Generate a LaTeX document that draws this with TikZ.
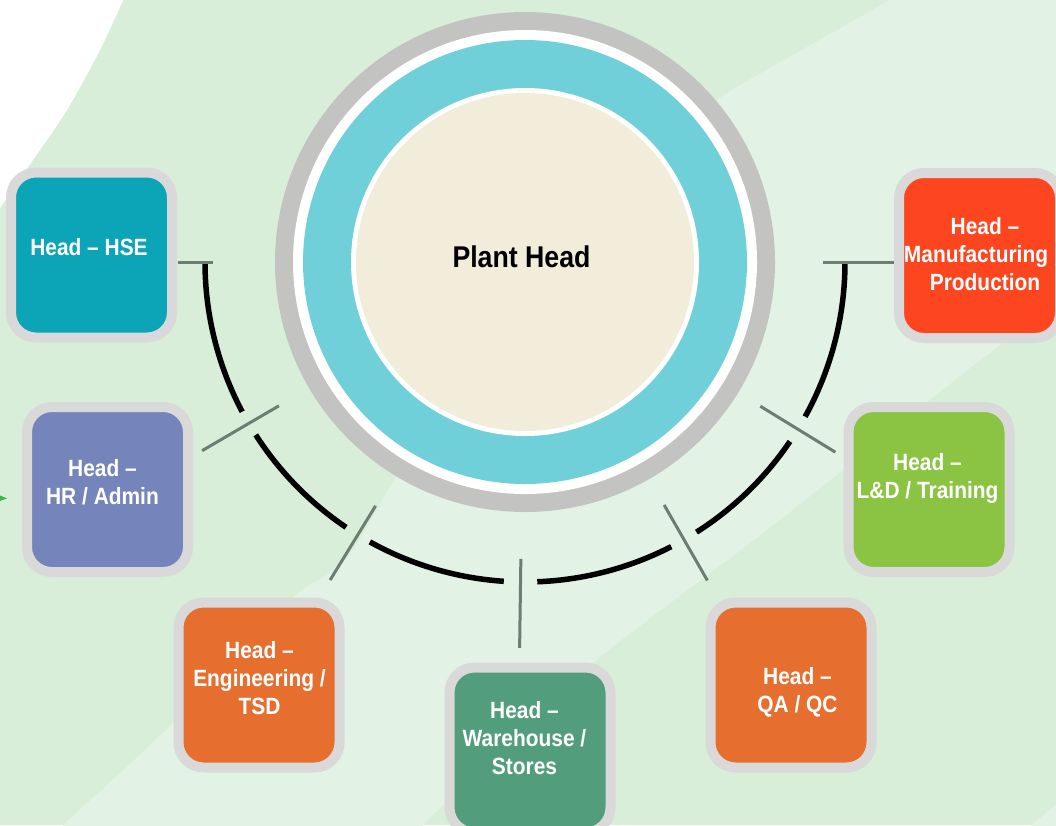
\documentclass[tikz,border=0pt]{standalone}
\usepackage{fontspec}
\newfontfamily\boxfont[FakeStretch=0.89]{Liberation Sans}
\definecolor{bgdark}{HTML}{D8EED9}
\definecolor{bglight}{HTML}{E2F2E4}
\definecolor{ringgray}{HTML}{C3C3C2}
\definecolor{ringcyan}{HTML}{6FD0DA}
\definecolor{core}{HTML}{F2ECDA}
\definecolor{boxrim}{HTML}{D8D9D8}
\definecolor{tickgray}{HTML}{6E7D72}
\definecolor{hsecol}{HTML}{0BA5B7}
\definecolor{hrcol}{HTML}{7585BC}
\definecolor{engcol}{HTML}{E66F30}
\definecolor{whcol}{HTML}{529E7C}
\definecolor{qacol}{HTML}{E66F30}
\definecolor{ldcol}{HTML}{8BC443}
\definecolor{mfcol}{HTML}{FD4620}
\definecolor{arrowgreen}{HTML}{3CB54A}
\tikzset{
  unitbox/.style={draw=boxrim, line width=10pt, rounded corners=25pt,
    inner sep=0pt, minimum width=161pt, minimum height=165pt},
  unittext/.style={font=\boxfont\bfseries\fontsize{23.5}{28}\selectfont,
    text=white, align=center, inner sep=0pt, anchor=base},
  arcline/.style={line width=5.5pt, black},
  tickline/.style={line width=3pt, tickgray}
}
\begin{document}
\begin{tikzpicture}[x=1pt,y=-1pt]
\useasboundingbox (0,0) rectangle (1056,825);
\clip (0,0) rectangle (1056,825);

% background bands
\fill[bgdark] (0,0) rectangle (1056,825);
\fill[white] (-5,-5) -- (126,-5) -- plot[smooth] coordinates
  {(124,-2) (100,50) (67,110) (33,160) (10,193) (-4,214)} -- cycle;
\fill[bglight] (1060,-5) -- (900,-5) -- plot[smooth] coordinates
  {(898,-5) (890,0) (770,68) (717,100) (600,190) (480,340) (400,470)
   (345,560) (290,600) (173,723) (63,825) (52,836)}
  -- (405,836) -- plot[smooth] coordinates
  {(412,836) (520,730) (600,657) (750,543) (843,470) (960,376) (1062,298)}
  -- cycle;
\fill[bglight] (1062,836) -- (1020,836) -- plot[smooth] coordinates
  {(1020,836) (1040,818) (1062,800)} -- cycle;

% central circle
\coordinate (C) at (525,262);
\fill[ringgray] (C) circle[radius=250];
\fill[white] (C) circle[radius=232];
\fill[ringcyan] (C) circle[radius=222];
\fill[white] (C) circle[radius=174];
\node[circle, fill=core, minimum size=338pt, inner sep=0pt] (core) at (C) {};
\node[font=\boxfont\bfseries\fontsize{30}{34}\selectfont, anchor=base, inner sep=0pt]
  (plant) at (521.5,267) {Plant Head};

% reporting arc with gaps at each branch
\draw[arcline] ([shift={(C)}]180:320) arc[start angle=180, end angle=152.1, radius=320];
\draw[arcline] ([shift={(C)}]147.3:320) arc[start angle=147.3, end angle=124.0, radius=320];
\draw[arcline] ([shift={(C)}]119.0:320) arc[start angle=119.0, end angle=93.8, radius=320];
\draw[arcline] ([shift={(C)}]87.8:320) arc[start angle=87.8, end angle=62.8, radius=320];
\draw[arcline] ([shift={(C)}]57.6:320) arc[start angle=57.6, end angle=34.1, radius=320];
\draw[arcline] ([shift={(C)}]28.9:320) arc[start angle=28.9, end angle=0, radius=320];

% branch ticks
\coordinate (t1a) at ([shift={(C)}]180:312);   \coordinate (t1b) at ([shift={(C)}]180:347);
\coordinate (t2a) at ([shift={(C)}]149.7:285); \coordinate (t2b) at ([shift={(C)}]149.7:374);
\coordinate (t3a) at ([shift={(C)}]121.5:286); \coordinate (t3b) at ([shift={(C)}]121.5:373);
\coordinate (t4a) at ([shift={(C)}]90.8:297);  \coordinate (t4b) at ([shift={(C)}]90.8:386);
\coordinate (t5a) at ([shift={(C)}]60.2:280);  \coordinate (t5b) at ([shift={(C)}]60.2:367);
\coordinate (t6a) at ([shift={(C)}]31.5:276);  \coordinate (t6b) at ([shift={(C)}]31.5:364);
\coordinate (t7a) at ([shift={(C)}]0:298);     \coordinate (t7b) at ([shift={(C)}]0:370);
\foreach \t in {1,...,7} \draw[tickline] (t\t a) -- (t\t b);

% department boxes
\node[unitbox, fill=hsecol] (hse) at (91.5,255) {};
\node[unitbox, fill=hrcol]  (hr)  at (107.5,489.5) {};
\node[unitbox, fill=engcol] (eng) at (259,685) {};
\node[unitbox, fill=whcol]  (wh)  at (530,750) {};
\node[unitbox, fill=qacol]  (qa)  at (791,685) {};
\node[unitbox, fill=ldcol]  (ld)  at (929,489.5) {};
\node[unitbox, fill=mfcol]  (mf)  at (979.5,255.5) {};

% labels (anchored on the baseline of their last line)
\node[unittext] (hsetext) at (89,255.5) {Head – HSE};
\node[unittext] (hrtext)  at (102.5,504.5) {Head –\\HR / Admin};
\node[unittext] (engtext) at (259.5,714.5) {Head –\\Engineering /\\TSD};
\node[unittext] (whtext)  at (524.5,774.5) {Head –\\Warehouse /\\Stores};
\node[unittext] (qatext)  at (797.5,712.5) {Head –\\QA / QC};
\node[unittext] (ldtext)  at (927.5,498) {Head –\\L\&D / Training};
\node[unittext] (mftext)  at (976,290) {\hspace*{18pt}Head –\\Manufacturing\\\hspace*{18pt}Production};

% small pointer at the left edge
\fill[arrowgreen] (0,495.5) -- (7,498.3) -- (0,501) -- cycle;
\end{tikzpicture}
\end{document}
